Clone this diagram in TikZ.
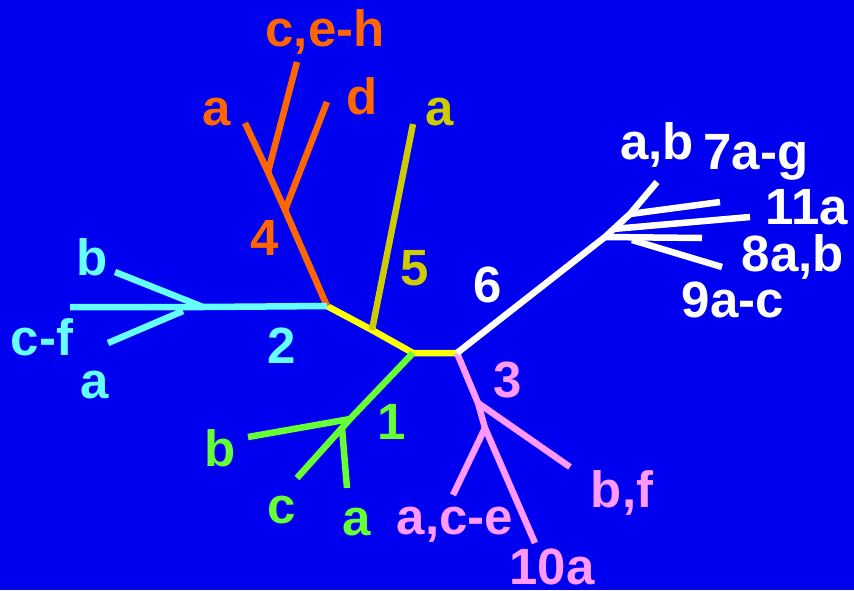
\documentclass[tikz,border=0pt]{standalone}
\usepackage{fontspec}
\setmainfont{Liberation Sans}
\definecolor{bg}{RGB}{0,0,240}
\definecolor{corange}{RGB}{255,102,0}
\definecolor{colive}{RGB}{204,204,0}
\definecolor{cyellow}{RGB}{255,255,0}
\definecolor{ccyan}{RGB}{102,255,255}
\definecolor{cgreen}{RGB}{102,255,51}
\definecolor{cpink}{RGB}{255,153,255}
\begin{document}
\begin{tikzpicture}[x=1pt,y=-1pt,
  br/.style={line width=6.5pt},
  lbl/.style={font=\fontsize{51}{51}\selectfont\bfseries, inner sep=0pt, anchor=center}]
\fill[bg] (0,0) rectangle (854,590);
\useasboundingbox (0,0) rectangle (854,590);
% central coordinates
\coordinate (J) at (327,306);
\coordinate (Y1) at (372,330);
\coordinate (Y2) at (413,353);
\coordinate (Y3) at (457,353);
% orange clade 4
\coordinate (O1) at (285,210);
\coordinate (O2) at (268,172);
\coordinate (Oa) at (245,123);
\coordinate (Oc) at (297,62);
\coordinate (Od) at (327,102);
% olive 5
\coordinate (F5) at (413,124);
% cyan 2
\coordinate (C1) at (203,307);
\coordinate (C2) at (183,311);
\coordinate (Cf) at (70,307);
\coordinate (Cb) at (115,272);
\coordinate (Ca) at (108,343);
% green 1
\coordinate (G1) at (350,419);
\coordinate (G2) at (342,428);
\coordinate (Gb) at (248,437);
\coordinate (Gc) at (297,478);
\coordinate (Ga) at (347,488);
% pink 3
\coordinate (P1) at (478,403);
\coordinate (P2) at (485,428);
\coordinate (Pb) at (570,467);
\coordinate (Pa) at (453,495);
\coordinate (P10) at (535,543);
% white 6
\coordinate (W1) at (605,237);
\coordinate (W2) at (630,214);
\coordinate (Wab) at (657,182);
\coordinate (W7) at (720,202);
\coordinate (W11s) at (613,229);
\coordinate (W11) at (750,217);
\coordinate (W8) at (702,238);
\coordinate (W9s) at (632,240);
\coordinate (W9) at (722,267);
% branches
\draw[br,cyellow] (J) -- (Y1) -- (Y2) -- (Y3);
\draw[br,corange] (J) -- (O1) -- (O2) -- (Oa);
\draw[br,corange] (O2) -- (Oc);
\draw[br,corange] (O1) -- (Od);
\draw[br,colive] (Y1) -- (F5);
\draw[br,ccyan] (J) -- (C1) -- (Cf);
\draw[br,ccyan] (C1) -- (Cb);
\draw[br,ccyan] (C2) -- (Ca);
\draw[br,cgreen] (Y2) -- (G1) -- (Gc);
\draw[br,cgreen] (G1) -- (Gb);
\draw[br,cgreen] (G2) -- (Ga);
\draw[br,cpink] (Y3) -- (P1) -- (P2) -- (P10);
\draw[br,cpink] (P1) -- (Pb);
\draw[br,cpink] (P2) -- (Pa);
\draw[br,white] (Y3) -- (W1) -- (W2) -- (Wab);
\draw[br,white] (W2) -- (W7);
\draw[br,white] (W11s) -- (W11);
\draw[br,white] (W1) -- (W8);
\draw[br,white] (W9s) -- (W9);
% labels
\node[lbl,corange] (l4ceh) at (325,32) {c,e-h};
\node[lbl,corange] (l4a) at (217,112) {a};
\node[lbl,corange] (l4d) at (362,96) {d};
\node[lbl,corange] (l4) at (265,238) {4};
\node[lbl,colive] (l5a) at (440,112) {a};
\node[lbl,colive] (l5) at (415,268) {5};
\node[lbl,ccyan] (l2b) at (92,257) {b};
\node[lbl,ccyan] (l2cf) at (42,337) {c-f};
\node[lbl,ccyan] (l2a) at (95,385) {a};
\node[lbl,ccyan] (l2) at (282,346) {2};
\node[lbl,cgreen] (l1b) at (220,448) {b};
\node[lbl,cgreen] (l1c) at (282,510) {c};
\node[lbl,cgreen] (l1a) at (357,522) {a};
\node[lbl,cgreen] (l1) at (392,422) {1};
\node[lbl,cpink] (l3) at (508,380) {3};
\node[lbl,cpink] (l3bf) at (622,493) {b,f};
\node[lbl,cpink] (l3ace) at (455,525) {a,c-e};
\node[lbl,cpink] (l310) at (552,567) {10a};
\node[lbl,white] (l6) at (488,285) {6};
\node[lbl,white] (l6ab) at (657,145) {a,b};
\node[lbl,white] (l7) at (756,157) {7a-g};
\node[lbl,white] (l11) at (807,207) {11a};
\node[lbl,white] (l8) at (793,257) {8a,b};
\node[lbl,white] (l9) at (733,300) {9a-c};
\end{tikzpicture}
\end{document}
